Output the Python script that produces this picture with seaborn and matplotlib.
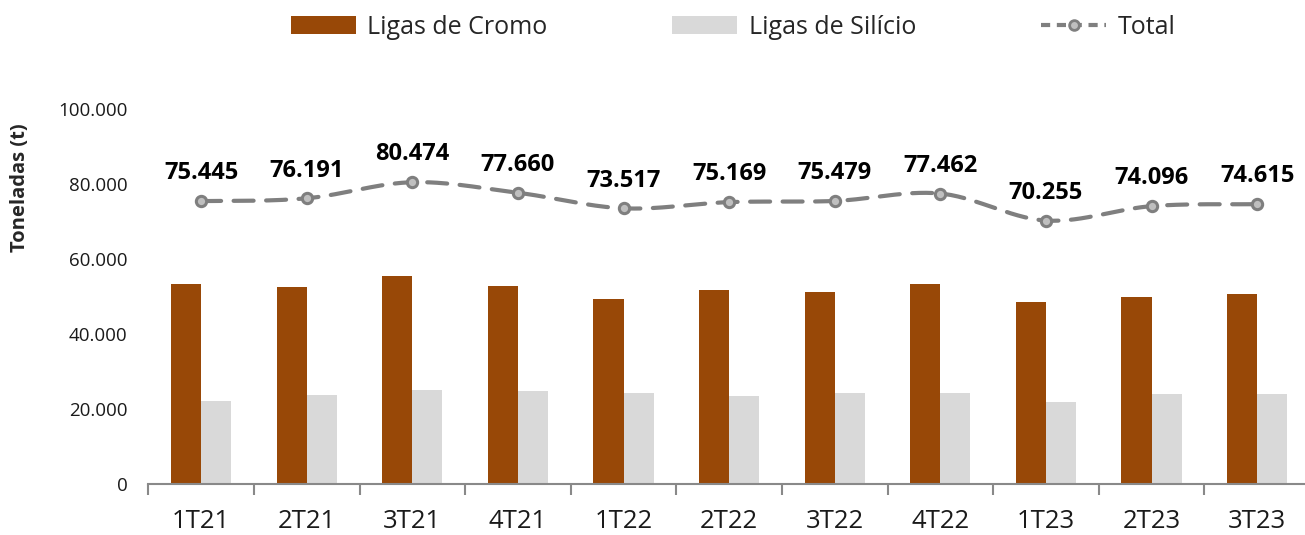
import numpy as np
import pandas as pd
import matplotlib
matplotlib.use("Agg")
import matplotlib.pyplot as plt
import seaborn as sns
from matplotlib.ticker import FuncFormatter, FixedLocator
from matplotlib.patches import Patch
from matplotlib.lines import Line2D

categories = ["1T21", "2T21", "3T21", "4T21", "1T22", "2T22", "3T22", "4T22", "1T23", "2T23", "3T23"]
cromo = [53240, 52520, 55370, 52780, 49370, 51680, 51180, 53220, 48470, 49990, 50660]
silicio = [22210, 23680, 25100, 24880, 24150, 23490, 24300, 24250, 21780, 24100, 23950]
total = [75445, 76191, 80474, 77660, 73517, 75169, 75479, 77462, 70255, 74096, 74615]
yticks = [0, 20000, 40000, 60000, 80000, 100000]

C_CROMO = "#984807"
C_SIL = "#D9D9D9"
C_LINE = "#7F7F7F"

sns.set_theme(style="white")
plt.rcParams["font.family"] = ["Open Sans", "DejaVu Sans"]

df = pd.DataFrame({
    "cat": categories * 2,
    "val": cromo + silicio,
    "serie": ["Ligas de Cromo"] * len(categories) + ["Ligas de Silício"] * len(categories),
})

fig = plt.figure(figsize=(13.05, 5.35), dpi=100)
W, H = 1305, 535
ax = fig.add_axes([148.3 / W, 1 - 484 / H, (1310 - 148.3) / W, (484 - 109) / H])

sns.barplot(data=df, x="cat", y="val", hue="serie", order=categories,
            palette=[C_CROMO, C_SIL], width=0.57, ax=ax, legend=False,
            saturation=1, edgecolor="none")

# smooth total line (Catmull-Rom through data points)
x = np.arange(len(categories), dtype=float)
y = np.array(total, dtype=float)
xs, ys = [], []
for i in range(len(x) - 1):
    p0 = y[i - 1] if i > 0 else y[i]
    p1, p2 = y[i], y[i + 1]
    p3 = y[i + 2] if i + 2 < len(y) else y[i + 1]
    t = np.linspace(0, 1, 30, endpoint=False)
    seg = 0.5 * ((2 * p1) + (-p0 + p2) * t + (2 * p0 - 5 * p1 + 4 * p2 - p3) * t ** 2
                 + (-p0 + 3 * p1 - 3 * p2 + p3) * t ** 3)
    xs.extend(x[i] + t)
    ys.extend(seg)
xs.append(x[-1]); ys.append(y[-1])
ax.plot(xs, ys, color=C_LINE, lw=3.0, linestyle=(0, (4.8, 3.0)),
        dash_capstyle="round", zorder=4)
sns.scatterplot(x=x, y=y, ax=ax, s=55, color="#BFBFBF", edgecolor=C_LINE, linewidth=2.2,
                zorder=5, legend=False)

for xi, v in zip(x, total):
    ax.annotate(f"{v/1000:.3f}", (xi, v), xytext=(0, 20), textcoords="offset points",
                ha="center", va="center", fontsize=17, fontweight="bold", color="black")

ax.set_xlim(-0.5, len(categories) - 0.5)
ax.set_ylim(0, 100000)
ax.yaxis.set_major_locator(FixedLocator(yticks))
ax.yaxis.set_major_formatter(FuncFormatter(lambda v, p: f"{int(v):,}".replace(",", ".")))
ax.tick_params(axis="y", length=0, labelsize=13.5, pad=15, colors="#1a1a1a")
ax.tick_params(axis="x", which="major", length=0, labelsize=18.5, pad=18, colors="#1a1a1a")
ax.xaxis.set_minor_locator(FixedLocator(np.arange(-0.5, len(categories), 1.0)))
ax.tick_params(axis="x", which="minor", bottom=True, length=8, width=1.5, color="#898989",
               direction="out")
ax.set_xlabel("")
ax.set_ylabel("")
for s in ["top", "right", "left"]:
    ax.spines[s].set_visible(False)
ax.spines["bottom"].set_color("#898989")
ax.spines["bottom"].set_linewidth(1.5)
ax.grid(False)

fig.text(20 / W, 1 - 188 / H, "Toneladas (t)", rotation=90, ha="center", va="center",
         fontsize=14.5, fontweight="bold")

handles = [
    Patch(facecolor=C_CROMO, edgecolor="none", label="Ligas de Cromo"),
    Patch(facecolor=C_SIL, edgecolor="none", label="Ligas de Silício"),
    Line2D([0], [0], color=C_LINE, lw=3.0, linestyle=(0, (2.2, 1.6)), marker="o",
           markersize=7, markerfacecolor="#BFBFBF", markeredgecolor=C_LINE, markeredgewidth=2,
           label="Total"),
]
fig.legend(handles=handles, loc="center", bbox_to_anchor=(733 / W, 1 - 27 / H), ncol=3,
           frameon=False, fontsize=18, handlelength=2.6, handleheight=0.7,
           columnspacing=5.0, handletextpad=0.45)

fig.savefig("out.png", dpi=100)
